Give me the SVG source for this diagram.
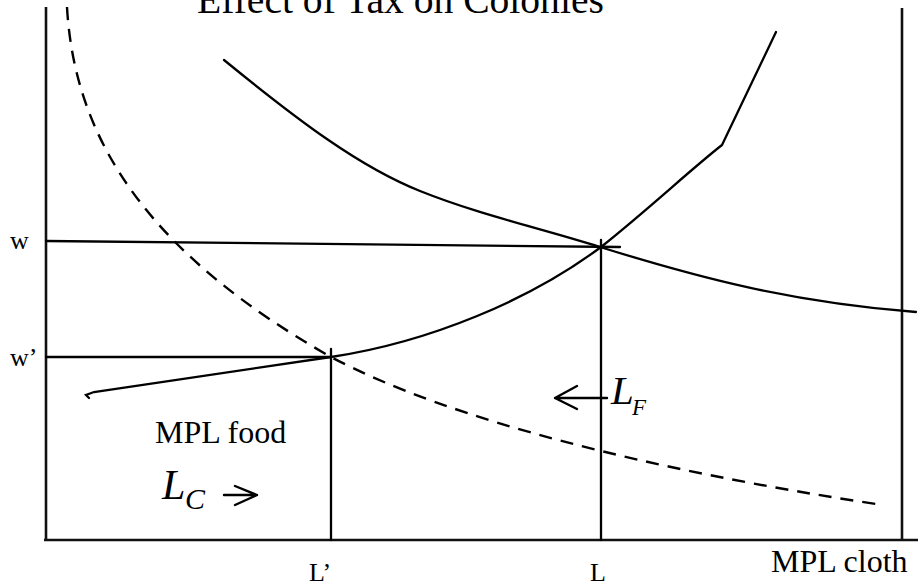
<svg xmlns="http://www.w3.org/2000/svg" width="921" height="586" viewBox="0 0 921 586">
<style>
.ln{fill:none;stroke:#000;stroke-width:2.3;stroke-linecap:round}
.ar{fill:none;stroke:#000;stroke-width:2.4;stroke-linecap:round;stroke-linejoin:round}
.ax{fill:none;stroke:#111;stroke-width:2.6}
.ds{fill:none;stroke:#000;stroke-width:2.4;stroke-dasharray:13 9}
.t{font-family:"Liberation Serif",serif;fill:#000}
.i{font-family:"Liberation Serif",serif;font-style:italic;fill:#000}
</style>
<rect width="921" height="586" fill="#fff"/>
<text class="t" x="197" y="13" font-size="39.6">Effect of Tax on Colonies</text>
<g id="axes">
<line class="ax" x1="46" y1="7" x2="46" y2="541"/>
<line class="ax" x1="44" y1="540" x2="918" y2="540"/>
<line class="ax" x1="902" y1="8" x2="902" y2="540"/>
</g>
<g id="connectors">
<line class="ln" x1="46" y1="241" x2="620" y2="247"/>
<line class="ln" x1="46" y1="357" x2="331" y2="357"/>
<line class="ln" x1="331" y1="349" x2="331" y2="540"/>
<line class="ln" x1="601" y1="240" x2="601" y2="540"/>
</g>
<g id="mpl-cloth-curve">
<path class="ln" d="M224,60 C300,122 360,167 420,191 C480,215 540,228 600,247 C700,278 790,302 916,312"/>
</g>
<g id="supply-curve">
<path class="ln" d="M89,398 L86,395 L94,392 L331,357 C430,342 530,300 601,247 C650,208 690,170 722,145 L776,32"/>
</g>
<g id="dashed-curve">
<path class="ds" d="M67,7 C75,150 160,260 331,357 C450,420 650,470 876,504"/>
</g>
<g id="labels">
<text class="t" x="10" y="249" font-size="26">w</text>
<text class="t" x="10" y="366" font-size="26">w’</text>
<text class="t" x="155" y="443" font-size="32">MPL food</text>
<text class="i" x="162" y="499" font-size="42">L</text>
<text class="i" x="185" y="509" font-size="30">C</text>
<path class="ar" d="M224,495 H257 M235,486 L257,495 L235,505"/>
<path class="ar" d="M555,398 H607 M577,386 L555,398 L577,409"/>
<text class="i" x="611" y="404" font-size="41">L</text>
<text class="i" x="632" y="415" font-size="23">F</text>
<text class="t" x="309" y="581" font-size="26">L’</text>
<text class="t" x="590" y="581" font-size="26">L</text>
<text class="t" x="771" y="572" font-size="32">MPL cloth</text>
</g>
</svg>
